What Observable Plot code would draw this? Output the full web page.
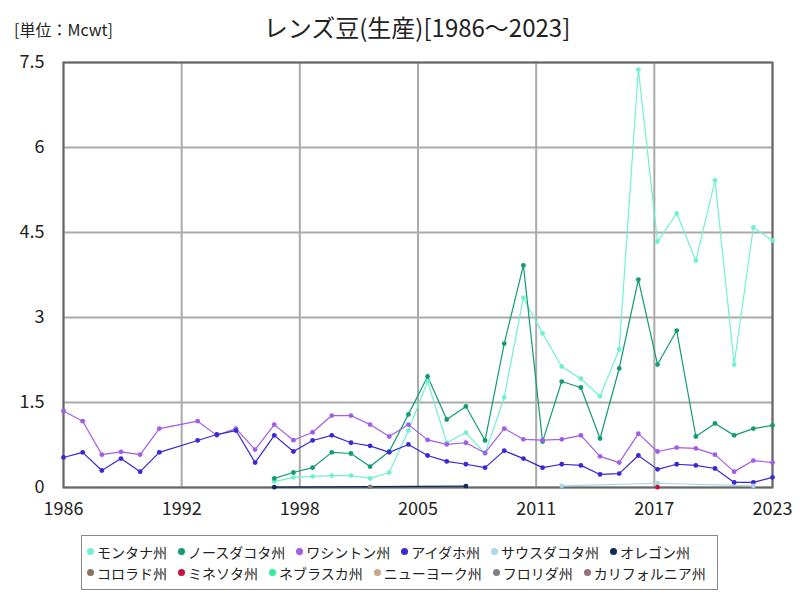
<!DOCTYPE html>
<html>
<head>
<meta charset="utf-8">
<script src="https://cdn.jsdelivr.net/npm/d3@7"></script>
<script src="https://cdn.jsdelivr.net/npm/@observablehq/plot@0.6"></script>
<style>
  body { margin: 0; background: #fff; font-family: "Noto Sans CJK JP", "Noto Sans", sans-serif; color: #222; }
  #wrap { position: relative; width: 800px; height: 600px; overflow: hidden; }
  #chart { position: absolute; left: 0; top: 0; }
  #title { position: absolute; left: 417px; top: 11px; transform: translateX(-50%); white-space: nowrap; font-size: 24px; line-height: 32px; }
  #unit { position: absolute; left: 14px; top: 18px; white-space: nowrap; font-size: 16px; line-height: 22px; }
  #legend { position: absolute; left: 81px; top: 535px; width: 637px; height: 55px; box-sizing: border-box;
            border: 1.5px solid #888; padding: 5px 0 0 5px; font-family: "Noto Sans CJK JP", sans-serif; color: #222; }
  .row { display: flex; flex-wrap: nowrap; height: 21px; }
  .item { display: flex; align-items: center; height: 21px; margin-right: 11px; font-size: 14px; white-space: nowrap; color: #222; }
  .sw { width: 7px; height: 7px; border-radius: 50%; margin-right: 3px; }
</style>
</head>
<body>
<div id="wrap">
  <div id="chart"></div>
  <div id="unit"></div>
  <div id="title"></div>
  <div id="legend"></div>
</div>
<script>
const titleText = "レンズ豆(生産)[1986～2023]";
const unitText = "[単位：Mcwt]";

const states = ["モンタナ州","ノースダコタ州","ワシントン州","アイダホ州","サウスダコタ州","オレゴン州",
                "コロラド州","ミネソタ州","ネブラスカ州","ニューヨーク州","フロリダ州","カリフォルニア州"];
const colors = ["#72f0d2","#119c74","#a35ce6","#3b27d4","#a9d8e8","#0b2b5b",
                "#8b7360","#c8103c","#33ee99","#c8aa88","#808080","#9a7080"];

const earlyYears = [1986,1987,1988,1989,1990,1991,1993,1994,1995,1996,1997,1998,1999,2000,2001,2002,2003,2004,
                    2005,2006,2007,2008,2009,2010,2011,2012,2013,2014,2015,2016,2017,2018,2019,2020,2021,2022,2023];
const lateYears = [1997,1998,1999,2000,2001,2002,2003,2004,2005,2006,2007,2008,2009,2010,2011,2012,2013,2014,
                   2015,2016,2017,2018,2019,2020,2021,2022,2023];

const montana = [0.105,0.18,0.195,0.21,0.21,0.16,0.265,1.005,1.87,0.79,0.97,0.60,1.59,3.35,2.72,2.135,1.92,1.61,
                 2.435,7.375,4.34,4.835,4.005,5.42,2.17,4.59,4.36];
const northDakota = [0.16,0.265,0.35,0.62,0.60,0.37,0.635,1.29,1.96,1.20,1.43,0.83,2.54,3.92,0.81,1.87,1.765,0.865,
                     2.10,3.67,2.17,2.77,0.90,1.13,0.92,1.04,1.095];
const washington = [1.35,1.17,0.58,0.63,0.58,1.04,1.17,0.92,1.04,0.67,1.11,0.835,0.975,1.27,1.27,1.11,0.90,1.11,
                    0.84,0.76,0.79,0.61,1.04,0.85,0.835,0.85,0.92,0.55,0.44,0.95,0.635,0.705,0.69,0.58,0.28,0.475,0.44];
const idaho = [0.53,0.62,0.30,0.51,0.28,0.62,0.83,0.935,1.005,0.44,0.92,0.635,0.83,0.92,0.79,0.735,0.62,0.76,
               0.565,0.46,0.41,0.35,0.65,0.51,0.35,0.41,0.39,0.23,0.245,0.565,0.32,0.41,0.39,0.335,0.09,0.09,0.18];
const southDakotaYears = [2012,2017,2022];
const southDakota = [0.03,0.075,0.03];
const oregonYears = [1997,2007];
const oregon = [0.005,0.025];
const minnesotaYears = [2017];
const minnesota = [0.005];
const floridaYears = [2002];
const florida = [0.01];

const xTicks = [1986, 1986 + 37/6, 1986 + 74/6, 1986 + 111/6, 1986 + 148/6, 1986 + 185/6, 2023];
const xTickLabels = ["1986","1992","1998","2005","2011","2017","2023"];
const yTicks = [0, 1.5, 3, 4.5, 6, 7.5];
const yTickLabels = ["0","1.5","3","4.5","6","7.5"];

function series(name, years, vals) { return years.map((y, i) => ({state: name, year: y, value: vals[i]})); }
const data = [
  ...series("モンタナ州", lateYears, montana),
  ...series("ノースダコタ州", lateYears, northDakota),
  ...series("ワシントン州", earlyYears, washington),
  ...series("アイダホ州", earlyYears, idaho),
  ...series("サウスダコタ州", southDakotaYears, southDakota),
  ...series("オレゴン州", oregonYears, oregon),
  ...series("ミネソタ州", minnesotaYears, minnesota),
  ...series("フロリダ州", floridaYears, florida)
];

const chart = Plot.plot({
  width: 800,
  height: 530,
  marginLeft: 63,
  marginRight: 28,
  marginTop: 62,
  marginBottom: 43,
  style: { fontFamily: "'Noto Sans CJK JP', 'Noto Sans', sans-serif", fontSize: "18px", color: "#222", background: "transparent" },
  x: { domain: [1986, 2023], label: null },
  y: { domain: [0, 7.5], label: null },
  color: { domain: states, range: colors },
  marks: [
    Plot.ruleX(xTicks, { stroke: "#aaa", strokeWidth: 2 }),
    Plot.ruleY(yTicks, { stroke: "#aaa", strokeWidth: 2 }),
    Plot.frame({ stroke: "#666", strokeWidth: 2 }),
    Plot.line(data, { x: "year", y: "value", z: "state", stroke: "state", strokeWidth: 1.2 }),
    Plot.dot(data, { x: "year", y: "value", fill: "state", r: 2.4, stroke: "none" }),
    Plot.axisX({ ticks: xTicks, tickFormat: d => xTickLabels[xTicks.indexOf(d)], tickSize: 0, tickPadding: 15, fontSize: 18, label: null }),
    Plot.axisY({ ticks: yTicks, tickFormat: d => yTickLabels[yTicks.indexOf(d)], tickSize: 0, tickPadding: 19, fontSize: 18, label: null })
  ]
});
document.getElementById("chart").appendChild(chart);
document.getElementById("title").textContent = titleText;
document.getElementById("unit").textContent = unitText;

const legend = document.getElementById("legend");
[states.slice(0, 6), states.slice(6)].forEach((rowStates, r) => {
  const row = document.createElement("div");
  row.className = "row";
  rowStates.forEach((s, j) => {
    const i = r * 6 + j;
    const item = document.createElement("div");
    item.className = "item";
    const sw = document.createElement("span");
    sw.className = "sw";
    sw.style.background = colors[i];
    const t = document.createElement("span");
    t.textContent = s;
    item.appendChild(sw);
    item.appendChild(t);
    row.appendChild(item);
  });
  legend.appendChild(row);
});
</script>
</body>
</html>
